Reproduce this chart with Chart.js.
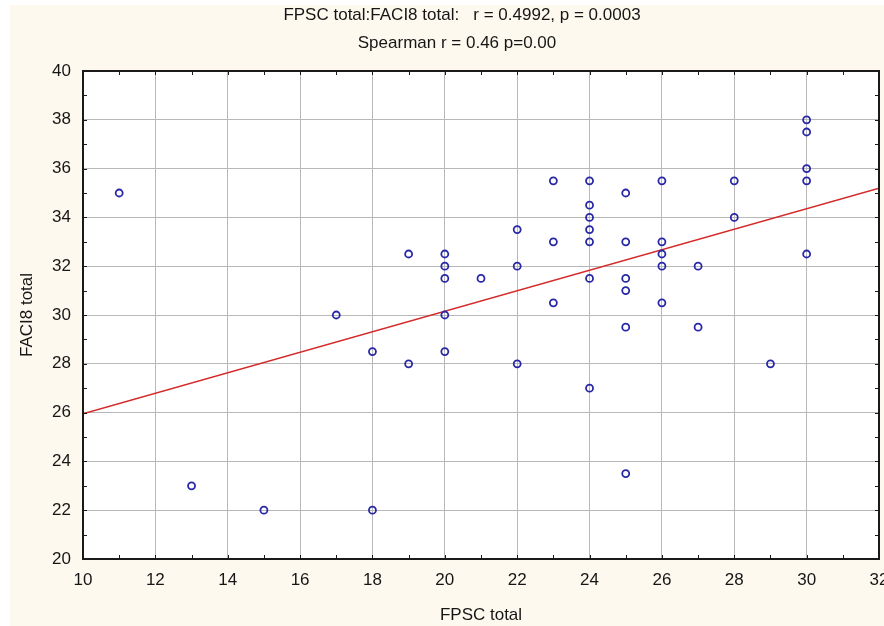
<!DOCTYPE html>
<html lang="en">
<head>
  <meta charset="UTF-8" />
  <title>FPSC total x FACI8 total</title>
  <style>
    body {
      margin: 0;
      padding: 0;
      background: #fff;
    }
  </style>
</head>
<body>
  <canvas id="grafico" width="884" height="626"></canvas>

  <script src="https://cdn.jsdelivr.net/npm/chart.js"></script>
  <script>
    const titulo = ["FPSC total:FACI8 total:   r = 0.4992, p = 0.0003", "Spearman r = 0.46 p=0.00"];
    const rotuloX = "FPSC total";
    const rotuloY = "FACI8 total";

    // FPSC total (x) e FACI8 total (y), um par por ponto
    const fpsc  = [11, 13, 15, 17, 18, 18, 19, 19, 20, 20, 20, 20, 20, 21, 22, 22, 22, 23, 23, 23,
                   24, 24, 24, 24, 24, 24, 24, 25, 25, 25, 25, 25, 25, 26, 26, 26, 26, 26, 27, 27,
                   28, 28, 29, 30, 30, 30, 30, 30];
    const faci8 = [35, 23, 22, 30, 28.5, 22, 32.5, 28, 32.5, 32, 31.5, 30, 28.5, 31.5, 33.5, 32, 28, 35.5, 33, 30.5,
                   35.5, 34.5, 34, 33.5, 33, 31.5, 27, 35, 33, 31.5, 31, 29.5, 23.5, 35.5, 33, 32.5, 32, 30.5, 32, 29.5,
                   35.5, 34, 28, 38, 37.5, 36, 35.5, 32.5];

    // reta de regressão (extremos)
    const retaX = [10, 32];
    const retaY = [25.95, 35.2];

    const ticksX = [10, 12, 14, 16, 18, 20, 22, 24, 26, 28, 30, 32];
    const ticksY = [20, 22, 24, 26, 28, 30, 32, 34, 36, 38, 40];

    Chart.defaults.font.family = '"Liberation Sans", Arial, sans-serif';
    Chart.defaults.font.size = 17;
    Chart.defaults.color = "#161616";

    const fundo = {
      id: "fundo",
      beforeInit(chart) {
        chart.ctx.letterSpacing = "0.6px";
      },
      beforeDraw(chart) {
        const { ctx, chartArea: a } = chart;
        ctx.save();
        ctx.fillStyle = "#fff";
        ctx.fillRect(0, 0, chart.width, chart.height);
        ctx.fillStyle = "#fdf9ee";
        ctx.fillRect(10, 5, chart.width - 10, chart.height - 5);
        ctx.fillStyle = "#fff";
        ctx.fillRect(a.left, a.top, a.right - a.left, a.bottom - a.top);
        ctx.restore();
      }
    };

    // moldura preta com marcas internas a cada unidade + título
    const moldura = {
      id: "moldura",
      afterDraw(chart) {
        const { ctx, chartArea: a, scales } = chart;
        ctx.save();
        ctx.strokeStyle = "#1a1a1a";
        ctx.lineWidth = 1;
        ctx.beginPath();
        for (let v = scales.x.min; v <= scales.x.max; v++) {
          const px = Math.round(scales.x.getPixelForValue(v)) + 0.5;
          ctx.moveTo(px, a.top); ctx.lineTo(px, a.top + 4);
          ctx.moveTo(px, a.bottom); ctx.lineTo(px, a.bottom - 4);
        }
        for (let v = scales.y.min; v <= scales.y.max; v++) {
          const py = Math.round(scales.y.getPixelForValue(v)) + 0.5;
          ctx.moveTo(a.left, py); ctx.lineTo(a.left + 4, py);
          ctx.moveTo(a.right, py); ctx.lineTo(a.right - 4, py);
        }
        ctx.stroke();
        ctx.lineWidth = 2;
        ctx.strokeRect(a.left, a.top, a.right - a.left, a.bottom - a.top);

        ctx.fillStyle = "#161616";
        ctx.font = '17px "Liberation Sans", Arial, sans-serif';
        ctx.textAlign = "center";
        ctx.textBaseline = "middle";
        ctx.fillText(titulo[0], 462, 15);
        ctx.fillText(titulo[1], 457, 43);
        ctx.restore();
      }
    };

    const pontos = fpsc.map((x, i) => ({ x: x, y: faci8[i] }));
    const reta = retaX.map((x, i) => ({ x: x, y: retaY[i] }));

    new Chart(document.getElementById("grafico").getContext("2d"), {
      type: "scatter",
      data: {
        datasets: [
          {
            label: "FACI8 total",
            data: pontos,
            pointStyle: "circle",
            pointRadius: 3.5,
            borderWidth: 1.8,
            borderColor: "#2828a6",
            backgroundColor: "rgba(0,0,0,0)",
            order: 0
          },
          {
            type: "line",
            label: "reta",
            data: reta,
            borderColor: "#d42a2a",
            borderWidth: 1.5,
            pointRadius: 0,
            order: 1
          }
        ]
      },
      options: {
        responsive: false,
        animation: false,
        layout: {
          padding: { top: 71, left: 0, right: 5, bottom: 0 },
          autoPadding: false
        },
        plugins: {
          legend: { display: false },
          tooltip: { enabled: false }
        },
        scales: {
          x: {
            type: "linear",
            position: "bottom",
            min: 10,
            max: 32,
            afterBuildTicks: s => { s.ticks = ticksX.map(v => ({ value: v })); },
            afterFit: s => { s.height = 67; s.paddingLeft = 0; s.paddingRight = 0; },
            ticks: { padding: 11 },
            grid: { color: "#b8b8b8", lineWidth: 1, drawTicks: false },
            border: { display: false },
            title: { display: true, text: rotuloX, padding: { top: 0, bottom: 0 } }
          },
          y: {
            type: "linear",
            position: "left",
            min: 20,
            max: 40,
            afterBuildTicks: s => { s.ticks = ticksY.map(v => ({ value: v })); },
            afterFit: s => { s.width = 83; s.paddingTop = 0; s.paddingBottom = 0; },
            ticks: { padding: 12 },
            grid: { color: "#b8b8b8", lineWidth: 1, drawTicks: false },
            border: { display: false },
            title: { display: true, text: rotuloY, padding: { top: 17, bottom: 0 } }
          }
        }
      },
      plugins: [fundo, moldura]
    });
  </script>
</body>
</html>
